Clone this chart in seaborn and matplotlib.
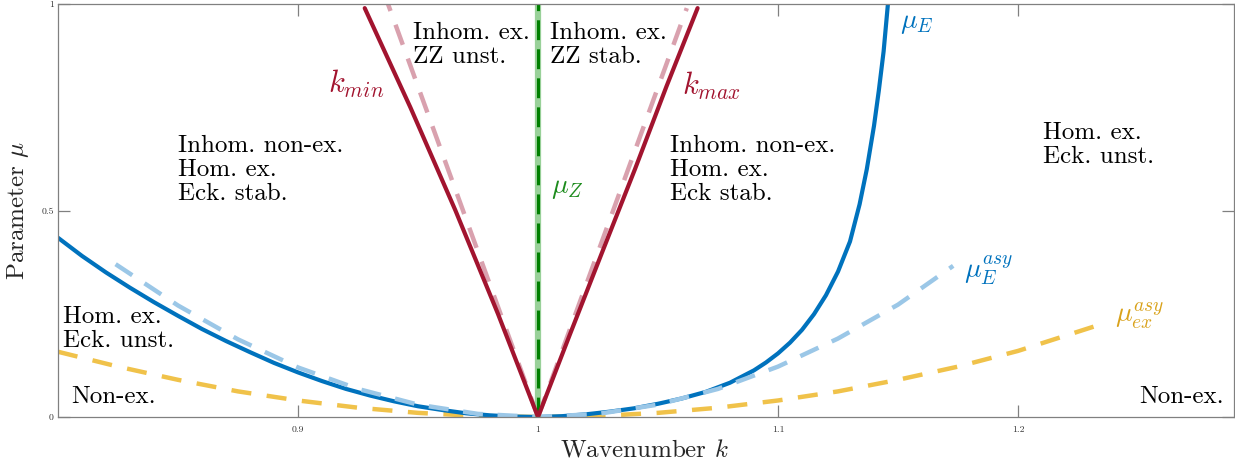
import numpy as np
import pandas as pd
import seaborn as sns
import matplotlib.pyplot as plt

# Courbes (nombre d'onde k, parametre mu)
k_E = [0.80, 0.81, 0.82, 0.83, 0.84, 0.85, 0.86, 0.87, 0.88, 0.89, 0.90,
       0.91, 0.92, 0.93, 0.94, 0.95, 0.96, 0.97, 0.98, 0.99, 1.00,
       1.01, 1.02, 1.03, 1.04, 1.05, 1.06, 1.07, 1.08, 1.09, 1.095,
       1.10, 1.105, 1.11, 1.115, 1.12, 1.125, 1.13, 1.134, 1.137, 1.14,
       1.142, 1.144, 1.1458]
mu_E = [0.434, 0.39, 0.35, 0.313, 0.278, 0.245, 0.213, 0.184, 0.157, 0.131, 0.108,
        0.087, 0.068, 0.052, 0.038, 0.026, 0.017, 0.009, 0.004, 0.001, 0.0,
        0.002, 0.0065, 0.013, 0.021, 0.032, 0.045, 0.061, 0.083, 0.113, 0.132,
        0.154, 0.180, 0.211, 0.249, 0.295, 0.352, 0.425, 0.515, 0.600, 0.705,
        0.790, 0.885, 1.0]

k_E_asy = [0.824, 0.85, 0.875, 0.90, 0.925, 0.95, 0.975, 1.0,
           1.025, 1.05, 1.075, 1.10, 1.125, 1.15, 1.173]
mu_E_asy = [0.37, 0.27, 0.188, 0.12, 0.068, 0.03, 0.0075, 0.0,
            0.0075, 0.03, 0.068, 0.122, 0.19, 0.272, 0.366]

k_ex_asy = [0.80, 0.825, 0.85, 0.875, 0.90, 0.925, 0.95, 0.975, 1.0,
            1.025, 1.05, 1.075, 1.10, 1.125, 1.15, 1.175, 1.20, 1.2354]
mu_ex_asy = [0.158, 0.122, 0.09, 0.062, 0.04, 0.0225, 0.01, 0.0025, 0.0,
             0.0025, 0.01, 0.0225, 0.04, 0.062, 0.09, 0.122, 0.16, 0.226]

mu_kmin = [0.0, 0.25, 0.5, 0.75, 0.99]
k_min = [1.0, 0.9833, 0.9656, 0.9468, 0.9278]
mu_kmax = [0.0, 0.2, 0.4, 0.6, 0.8, 0.99]
k_max = [1.0, 1.0133, 1.0268, 1.0404, 1.0535, 1.0665]

mu_k_asy_min = [0.0, 1.0]
k_min_asy = [1.0, 0.9375]
mu_k_asy_max = [0.0, 0.99]
k_max_asy = [1.0, 1.062]

k_Z = [1.0, 1.0]
mu_Z = [0.0, 1.0]

xticks = [0.9, 1.0, 1.1, 1.2]
xticklabels = ['0.9', '1', '1.1', '1.2']
yticks = [0.0, 0.5, 1.0]
yticklabels = ['0', '0.5', '1']

sns.set_style('ticks')
plt.rcParams['font.family'] = ['cmr10', 'DejaVu Serif']
plt.rcParams['mathtext.fontset'] = 'cm'
plt.rcParams['axes.formatter.use_mathtext'] = True

BLUE = '#0072BD'
LBLUE = '#9BC7E7'
YEL = '#F0C24A'
RED = '#A2142F'
PINK = '#D9A1AE'
LGREEN = '#99D199'
DGREEN = '#008000'
GRAY = '#808080'

fig = plt.figure(figsize=(12.35, 4.66), dpi=100)
ax = fig.add_axes([58 / 1235, 49 / 466, 1176 / 1235, 413 / 466])

def line(x, y, **kw):
    sns.lineplot(x=x, y=y, sort=False, estimator=None, ax=ax, **kw)

line(k_ex_asy, mu_ex_asy, color=YEL, lw=3.2, linestyle=(0, (4.5, 3.5)))
line(k_E, mu_E, color=BLUE, lw=3.0)
line(k_E_asy, mu_E_asy, color=LBLUE, lw=3.2, linestyle=(0, (4.5, 3.3)))
line(k_min_asy, mu_k_asy_min, color=PINK, lw=3.2, linestyle=(0, (4.8, 3.3)))
line(k_max_asy, mu_k_asy_max, color=PINK, lw=3.2, linestyle=(0, (4.8, 3.3)))
line(k_Z, mu_Z, color=LGREEN, lw=4.5)
line(k_Z, mu_Z, color=DGREEN, lw=2.2, linestyle=(0, (6.5, 3.0)))
line(k_min, mu_kmin, color=RED, lw=3.0)
line(k_max, mu_kmax, color=RED, lw=3.0)

ax.set_xlim(0.8, 1.29)
ax.set_ylim(0, 1)
ax.set_xticks(xticks)
ax.set_xticklabels(xticklabels)
ax.set_yticks(yticks)
ax.set_yticklabels(yticklabels)
ax.tick_params(direction='in', length=8.5, width=0.9, color=GRAY,
               labelsize=7, labelcolor='#333333', top=True, right=True)
ax.tick_params(axis='x', pad=6)
ax.tick_params(axis='y', pad=3)
for s in ax.spines.values():
    s.set_visible(True)
    s.set_color(GRAY)
    s.set_linewidth(0.9)

ax.set_xlabel('Wavenumber $k$', fontsize=18, color='#262626')
ax.xaxis.set_label_coords(0.499, -0.08)
ax.xaxis.label.set_va('center')
ax.set_ylabel('Parameter $\\mu$', fontsize=18, color='#262626')
ax.yaxis.set_label_coords(-0.034, 0.5)
ax.yaxis.label.set_va('center')

# va='baseline' cale la derniere ligne
txt = dict(fontsize=18, va='baseline', linespacing=1.1, color='black')
ax.text(0.85, 0.525, 'Inhom. non-ex.\nHom. ex.\nEck. stab.', **txt)
ax.text(1.055, 0.525, 'Inhom. non-ex.\nHom. ex.\nEck stab.', **txt)
ax.text(1.2103, 0.615, 'Hom. ex.\nEck. unst.', **txt)
ax.text(0.948, 0.857, 'Inhom. ex.\nZZ unst.', **txt)
ax.text(1.005, 0.857, 'Inhom. ex.\nZZ stab.', **txt)
ax.text(0.802, 0.170, 'Hom. ex.\nEck. unst.', **txt)
ax.text(0.8054, 0.035, 'Non-ex.', **txt)
ax.text(1.2504, 0.035, 'Non-ex.', **txt)

mt = dict(fontsize=20, va='baseline')
ax.text(0.9125, 0.785, '$k_{min}$', color=RED, fontsize=22, va='baseline')
ax.text(1.0600, 0.78, '$k_{max}$', color=RED, fontsize=22, va='baseline')
ax.text(1.0054, 0.542, '$\\mu_Z$', color='#1E8C1E', **mt)
ax.text(1.151, 0.942, '$\\mu_E$', color=BLUE, **mt)
ax.text(1.1775, 0.339, '$\\mu_E^{asy}$', color=BLUE, **mt)
ax.text(1.2404, 0.23, '$\\mu_{ex}^{asy}$', color='#D9A21B', **mt)

fig.savefig('out.png', dpi=100)
